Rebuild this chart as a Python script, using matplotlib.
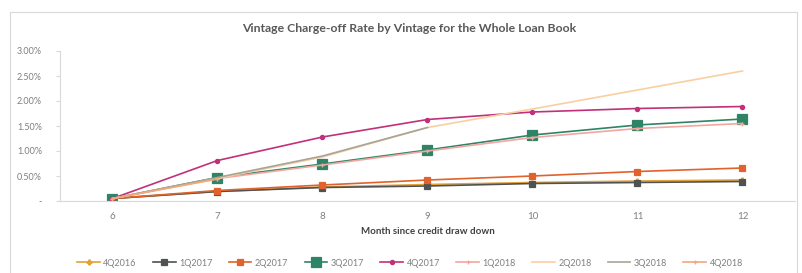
import numpy as np
import matplotlib
matplotlib.use('Agg')
import matplotlib.pyplot as plt
from matplotlib.patches import Rectangle

plt.rcParams['font.family'] = ['Lato', 'DejaVu Sans']

months = [6, 7, 8, 9, 10, 11, 12]
nan = np.nan

# 每个批次的核销率（%）
r_4q2016 = [0.05, 0.19, 0.28, 0.33, 0.37, 0.40, 0.42]
r_1q2017 = [0.05, 0.19, 0.27, 0.30, 0.35, 0.37, 0.39]
r_2q2017 = [0.05, 0.21, 0.32, 0.42, 0.50, 0.59, 0.66]
r_3q2017 = [0.05, 0.47, 0.74, 1.02, 1.32, 1.52, 1.64]
r_4q2017 = [0.05, 0.81, 1.28, 1.63, 1.78, 1.85, 1.89]
r_1q2018 = [0.05, 0.45, 0.72, 1.00, 1.27, 1.45, 1.55]
r_2q2018 = [0.05, 0.45, 0.88, 1.47, 1.84, 2.22, 2.60]
r_3q2018 = [0.05, 0.47, 0.90, 1.47, nan, nan, nan]
r_4q2018 = [0.05, 0.44, nan, nan, nan, nan, nan]

series = [
    ('4Q2016', r_4q2016, '#E2A23A', 'P', 3.5),
    ('1Q2017', r_1q2017, '#4F5250', 's', 5),
    ('2Q2017', r_2q2017, '#E0622C', 's', 4.5),
    ('3Q2017', r_3q2017, '#2E8466', 's', 6.5),
    ('4Q2017', r_4q2017, '#C2307A', 'o', 3),
    ('1Q2018', r_1q2018, '#F2A6A0', '+', 3.5),
    ('2Q2018', r_2q2018, '#F9CFA2', None, 0),
    ('3Q2018', r_3q2018, '#A8A496', None, 0),
    ('4Q2018', r_4q2018, '#F4A77A', '+', 3.5),
]

fig = plt.figure(figsize=(8.03, 2.73), dpi=100)
# 外框
fig.patches.append(Rectangle((10 / 803, -0.01), 787 / 803, 1 - 12 / 273 + 0.01,
                             transform=fig.transFigure, fill=False,
                             edgecolor='#D9D9D9', linewidth=0.8))
ax = fig.add_axes([60 / 803, 72 / 273, 735 / 803, 150 / 273])

x = np.arange(len(months))
for name, vals, color, marker, ms in series:
    ax.plot(x, vals, color=color, marker=marker, markersize=ms,
            linewidth=1.2, label=name, markeredgewidth=0.9)

ax.set_xlim(-0.5, len(months) - 0.5)
ax.set_ylim(0, 3.0)
ax.set_xticks(x)
ax.set_xticklabels([str(m) for m in months])
yt = np.arange(0, 3.01, 0.5)
ax.set_yticks(yt)
ax.set_yticklabels(['-'] + ['{:.2f}%'.format(v) for v in yt[1:]])
ax.tick_params(axis='x', length=0, labelsize=7, colors='#7F7F7F', pad=8)
ax.tick_params(axis='y', length=3, labelsize=6.5, colors='#7F7F7F',
               direction='out', pad=10)
ax.tick_params(axis='y', color='#D9D9D9')
for s in ['top', 'right']:
    ax.spines[s].set_visible(False)
ax.spines['left'].set_color('#D9D9D9')
ax.spines['bottom'].set_color('#D9D9D9')

ax.set_xlabel('Month since credit draw down', fontsize=7, color='#404040',
              fontweight='bold', labelpad=4)
fig.text(409 / 803, 1 - 28 / 273,
         'Vintage Charge-off Rate by Vintage for the Whole Loan Book',
         ha='center', va='center', fontsize=8.8, fontweight='bold',
         color='#595959')

fig.legend(loc='center', bbox_to_anchor=(410 / 803, 1 - 263 / 273), ncol=9,
           frameon=False, fontsize=6.5, labelcolor='#7F7F7F',
           handlelength=2.5, columnspacing=1.8, handletextpad=0.4)

fig.savefig('out.png', dpi=100)
